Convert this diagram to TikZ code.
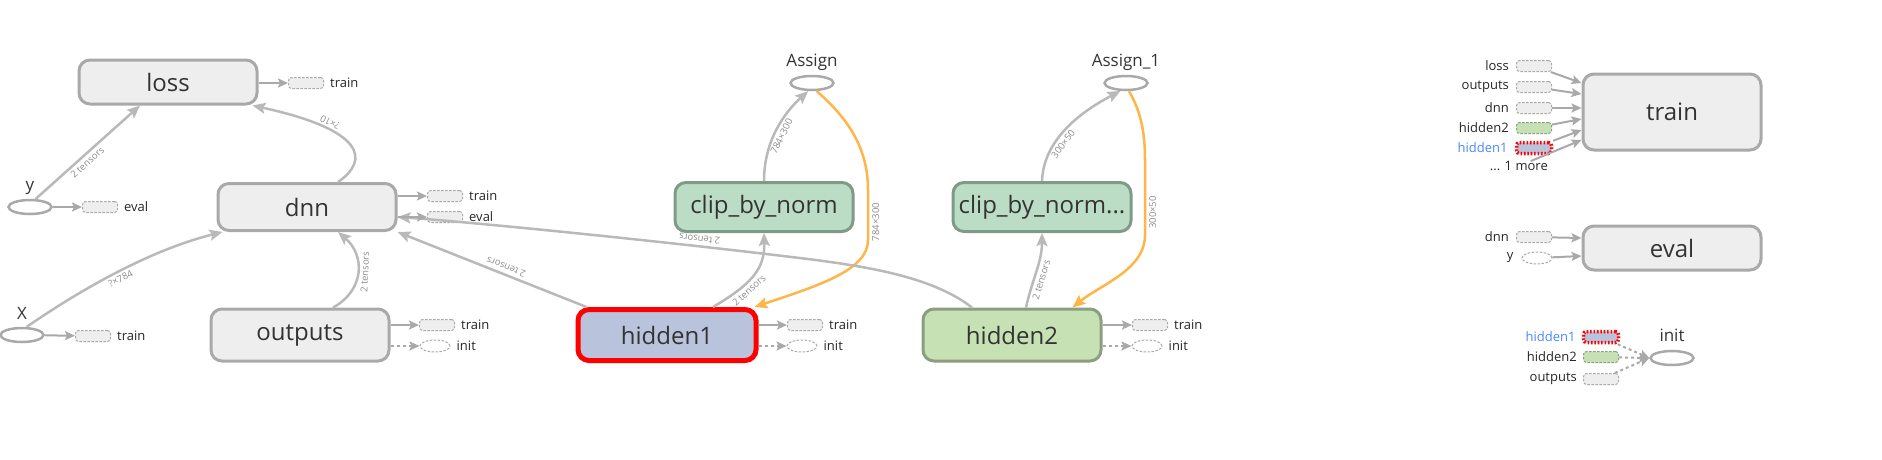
\documentclass[tikz,border=0pt]{standalone}
\usepackage{fontspec}
\setmainfont{Open Sans}
\usetikzlibrary{positioning,shapes.geometric,arrows.meta}
\definecolor{edgegray}{HTML}{B9B9B9}
\definecolor{boxline}{HTML}{A9A9A9}
\definecolor{boxfill}{HTML}{EEEEEE}
\definecolor{txtgray}{HTML}{333333}
\definecolor{lblgray}{HTML}{8C8C8C}
\definecolor{clipfill}{HTML}{BCDDC5}
\definecolor{clipline}{HTML}{7F9A85}
\definecolor{hidfill}{HTML}{C6E2B5}
\definecolor{hidline}{HTML}{8B9F80}
\definecolor{selfill}{HTML}{B9C4DC}
\definecolor{selred}{HTML}{FF0000}
\definecolor{refedge}{HTML}{FFB547}
\definecolor{linkblue}{HTML}{4A8AF4}

\begin{document}
\begin{tikzpicture}[x=1pt, y=-1pt,
		op/.style={rounded corners=11pt, draw=boxline, fill=boxfill, line width=3pt, minimum width=178pt, minimum height=47pt, inner sep=0pt, text=txtgray, font=\fontsize{24}{28}\selectfont},
		var/.style={ellipse, draw=boxline, line width=2.5pt, minimum width=43pt, minimum height=14pt, inner sep=0pt},
		stub/.style={draw=boxline, fill=boxfill, rounded corners=3pt, line width=1pt, dash pattern=on 2.5pt off 1.5pt, minimum width=35pt, minimum height=11pt, inner sep=0pt},
		stubvar/.style={ellipse, draw=boxline, line width=1pt, dash pattern=on 2.5pt off 1.5pt, minimum width=30pt, minimum height=12pt, inner sep=0pt},
		edge/.style={draw=edgegray, line width=2.5pt, -{Stealth[length=13pt, width=11pt, inset=2.5pt]}},
		refline/.style={edge, draw=refedge},
		stubedge/.style={draw=boxline, line width=2pt, -{Stealth[length=10pt, width=9pt, inset=2pt]}},
		ctrledge/.style={stubedge, dash pattern=on 3pt off 3pt},
		elbl/.style={font=\fontsize{9.5}{10}\selectfont, text=lblgray, sloped, inner sep=2.5pt},
		elblv/.style={font=\fontsize{9.5}{10}\selectfont, text=lblgray, rotate=90, inner sep=3pt},
		slbl/.style={font=\fontsize{13}{14}\selectfont, text=black!85, inner sep=0pt},
		vlbl/.style={font=\fontsize{17}{18}\selectfont, text=txtgray, inner sep=0pt}]
	\useasboundingbox (0,0) rectangle (1882,459);

	\node[op, minimum height=44pt] (loss) at (168,82) {loss};
	\node[op] (dnn) at (307,207) {dnn};
	\node[op, minimum height=52pt] (outputs) at (300,335) {outputs};
	\node[op, minimum height=51pt, fill=selfill, draw=selred, line width=5pt] (hidden1) at (667,335) {hidden1};
	\node[op, minimum height=49pt, fill=clipfill, draw=clipline] (clip1) at (764,207) {clip\_by\_norm};
	\node[op, minimum height=49pt, fill=clipfill, draw=clipline] (clip2) at (1042,207) {clip\_by\_norm...};
	\node[op, minimum height=52pt, fill=hidfill, draw=hidline] (hidden2) at (1012,335) {hidden2};
	\node[op, minimum height=76pt] (train) at (1672,112) {train};
	\node[op, minimum height=44pt] (eval) at (1672,248) {eval};

	\node[var] (y) at (30,207) {};
	\node[vlbl, above=4pt of y] (ylbl) {y};
	\node[var] (X) at (22,335) {};
	\node[vlbl, above=7pt of X] (Xlbl) {X};
	\node[var] (assign) at (812,83) {};
	\node[vlbl, above=4pt of assign] (assignlbl) {Assign};
	\node[var] (assign1) at (1126,83) {};
	\node[vlbl, above=4pt of assign1] (assign1lbl) {Assign\_1};
	\node[var] (init) at (1672,358) {};
	\node[vlbl, above=8pt of init] (initlbl) {init};

	\node[stub] (lossTrain) at (306,83) {};
	\node[slbl, right=6pt of lossTrain] (lossTrainLbl) {train};
	\node[stub] (yEval) at (100,207) {};
	\node[slbl, right=6pt of yEval] (yEvalLbl) {eval};
	\node[stub] (XTrain) at (93,336) {};
	\node[slbl, right=6pt of XTrain] (XTrainLbl) {train};
	\node[stub] (dnnTrain) at (445,196) {};
	\node[slbl, right=6pt of dnnTrain] (dnnTrainLbl) {train};
	\node[stub] (dnnEval) at (445,217) {};
	\node[slbl, right=6pt of dnnEval] (dnnEvalLbl) {eval};
	\node[stub] (outTrain) at (437,325) {};
	\node[slbl, right=6pt of outTrain] (outTrainLbl) {train};
	\node[stubvar] (outInit) at (435,346) {};
	\node[slbl, right=6pt of outInit] (outInitLbl) {init};
	\node[stub] (h1Train) at (805,325) {};
	\node[slbl, right=6pt of h1Train] (h1TrainLbl) {train};
	\node[stubvar] (h1Init) at (802,346) {};
	\node[slbl, right=6pt of h1Init] (h1InitLbl) {init};
	\node[stub] (h2Train) at (1150,325) {};
	\node[slbl, right=6pt of h2Train] (h2TrainLbl) {train};
	\node[stubvar] (h2Init) at (1147,346) {};
	\node[slbl, right=6pt of h2Init] (h2InitLbl) {init};

	\node[stub] (tLoss) at (1534,66) {};
	\node[slbl, left=7pt of tLoss] (tLossLbl) {loss};
	\node[stub] (tOut) at (1534,87) {};
	\node[slbl, left=7pt of tOut] (tOutLbl) {outputs};
	\node[stub] (tDnn) at (1534,108) {};
	\node[slbl, left=7pt of tDnn] (tDnnLbl) {dnn};
	\node[stub, fill=hidfill, draw=hidline] (tH2) at (1534,128) {};
	\node[slbl, left=7pt of tH2] (tH2Lbl) {hidden2};
	\node[stub, fill=selfill, draw=selred, line width=3.5pt, dash pattern=on 1.6pt off 1.8pt] (tH1) at (1534,148) {};
	\node[slbl, left=7pt of tH1, text=linkblue] (tH1Lbl) {hidden1};
	\node[slbl, anchor=east] (tMore) at (1548,166) {... 1 more};
	\node[stub] (eDnn) at (1534,237) {};
	\node[slbl, left=7pt of eDnn] (eDnnLbl) {dnn};
	\node[stubvar] (eY) at (1537,258) {};
	\node[slbl, left=8pt of eY] (eYLbl) {y};
	\node[stub, fill=selfill, draw=selred, line width=3.5pt, dash pattern=on 1.6pt off 1.8pt] (iH1) at (1601,337) {};
	\node[slbl, left=6pt of iH1, text=linkblue] (iH1Lbl) {hidden1};
	\node[stub, fill=hidfill, draw=hidline] (iH2) at (1601,357) {};
	\node[slbl, left=6pt of iH2] (iH2Lbl) {hidden2};
	\node[stub] (iOut) at (1601,379) {};
	\node[slbl, left=6pt of iOut] (iOutLbl) {outputs};

	\draw[edge] (y.55) -- node[elbl, pos=0.45, below] (lblYLoss) {2 tensors} ([xshift=-28pt]loss.south);
	\draw[edge] ([xshift=31pt]dnn.north) .. controls (370,160) and (365,130) .. node[elbl, pos=0.7, allow upside down, below] (lblDnnLoss) {?×10} ([xshift=-6pt]loss.south east);
	\draw[edge] (X.60) .. controls (80,290) and (150,250) .. node[elbl, pos=0.5, below] (lblXDnn) {?×784} ([xshift=6pt]dnn.south west);
	\draw[edge] ([xshift=33pt]outputs.north) .. controls (365,290) and (365,255) .. node[elbl, pos=0.5, below] (lblOutDnn) {2 tensors} ([xshift=31pt]dnn.south);
	\draw[edge] ([xshift=11pt]hidden1.north west) -- node[elbl, pos=0.44, allow upside down, below] (lblH1Dnn) {2 tensors} (dnn.south east);
	\draw[edge] ([xshift=46pt]hidden1.north) .. controls (750,285) and (765,270) .. node[elbl, pos=0.35, below] (lblH1Clip) {2 tensors} (clip1.south);
	\draw[edge] (clip1.north) .. controls (764,140) and (785,112) .. node[elbl, pos=0.45, below] (lblClipAssign) {784×300} (assign.245);
	\draw[refline] (assign.300) .. controls (850,120) and (868,150) .. (868,190) -- node[elblv, pos=0.64, below] (lblAssignH1) {784×300} (868,240) .. controls (868,270) and (820,285) .. ([xshift=-4pt]hidden1.north east);
	\draw[edge] (clip2.north) .. controls (1043,150) and (1065,120) .. node[elbl, pos=0.45, below] (lblClip2Assign) {300×50} (assign1.235);
	\draw[refline] (assign1.290) .. controls (1140,110) and (1145,130) .. (1145,160) -- node[elblv, pos=0.7, below] (lblAssign1H2) {300×50} (1145,235) .. controls (1145,270) and (1100,285) .. ([xshift=-30pt]hidden2.north east);
	\draw[edge] ([xshift=14pt]hidden2.north) .. controls (1032,280) and (1042,262) .. node[elbl, pos=0.4, below] (lblH2Clip) {2 tensors} (clip2.south);
	\draw[edge] ([xshift=-40pt]hidden2.north) .. controls (930,275) and (860,265) .. (783,256) .. controls (650,240) and (470,222) .. node[elbl, pos=0.2, allow upside down, below] (lblH2Dnn) {2 tensors} ([yshift=-10pt]dnn.east);

	\draw[stubedge] (loss.east |- lossTrain) -- (lossTrain);
	\draw[stubedge] (y) -- (yEval);
	\draw[stubedge] (X) -- (XTrain);
	\draw[stubedge] (dnn.east |- dnnTrain) -- (dnnTrain);
	\draw[stubedge] (dnn.east |- dnnEval) -- (dnnEval);
	\draw[stubedge] (outputs.east |- outTrain) -- (outTrain);
	\draw[ctrledge] (outputs.east |- outInit) -- (outInit);
	\draw[stubedge] (hidden1.east |- h1Train) -- (h1Train);
	\draw[ctrledge] (hidden1.east |- h1Init) -- (h1Init);
	\draw[stubedge] (hidden2.east |- h2Train) -- (h2Train);
	\draw[ctrledge] (hidden2.east |- h2Init) -- (h2Init);

	\draw[stubedge] (tLoss) -- ([yshift=29pt]train.west);
	\draw[stubedge] (tOut) -- ([yshift=18pt]train.west);
	\draw[stubedge] (tDnn) -- ([yshift=4pt]train.west);
	\draw[stubedge] (tH2) -- ([yshift=-7pt]train.west);
	\draw[stubedge] (tH1) -- ([yshift=-18pt]train.west);
	\draw[stubedge] (tMore) -- ([yshift=-28pt]train.west);
	\draw[stubedge] (eDnn) -- ([yshift=10pt]eval.west);
	\draw[stubedge] (eY) -- ([yshift=-8pt]eval.west);
	\draw[ctrledge] (iH1) -- (init.west);
	\draw[ctrledge] (iH2) -- (init.west);
	\draw[ctrledge] (iOut) -- (init.west);
\end{tikzpicture}
\end{document}
